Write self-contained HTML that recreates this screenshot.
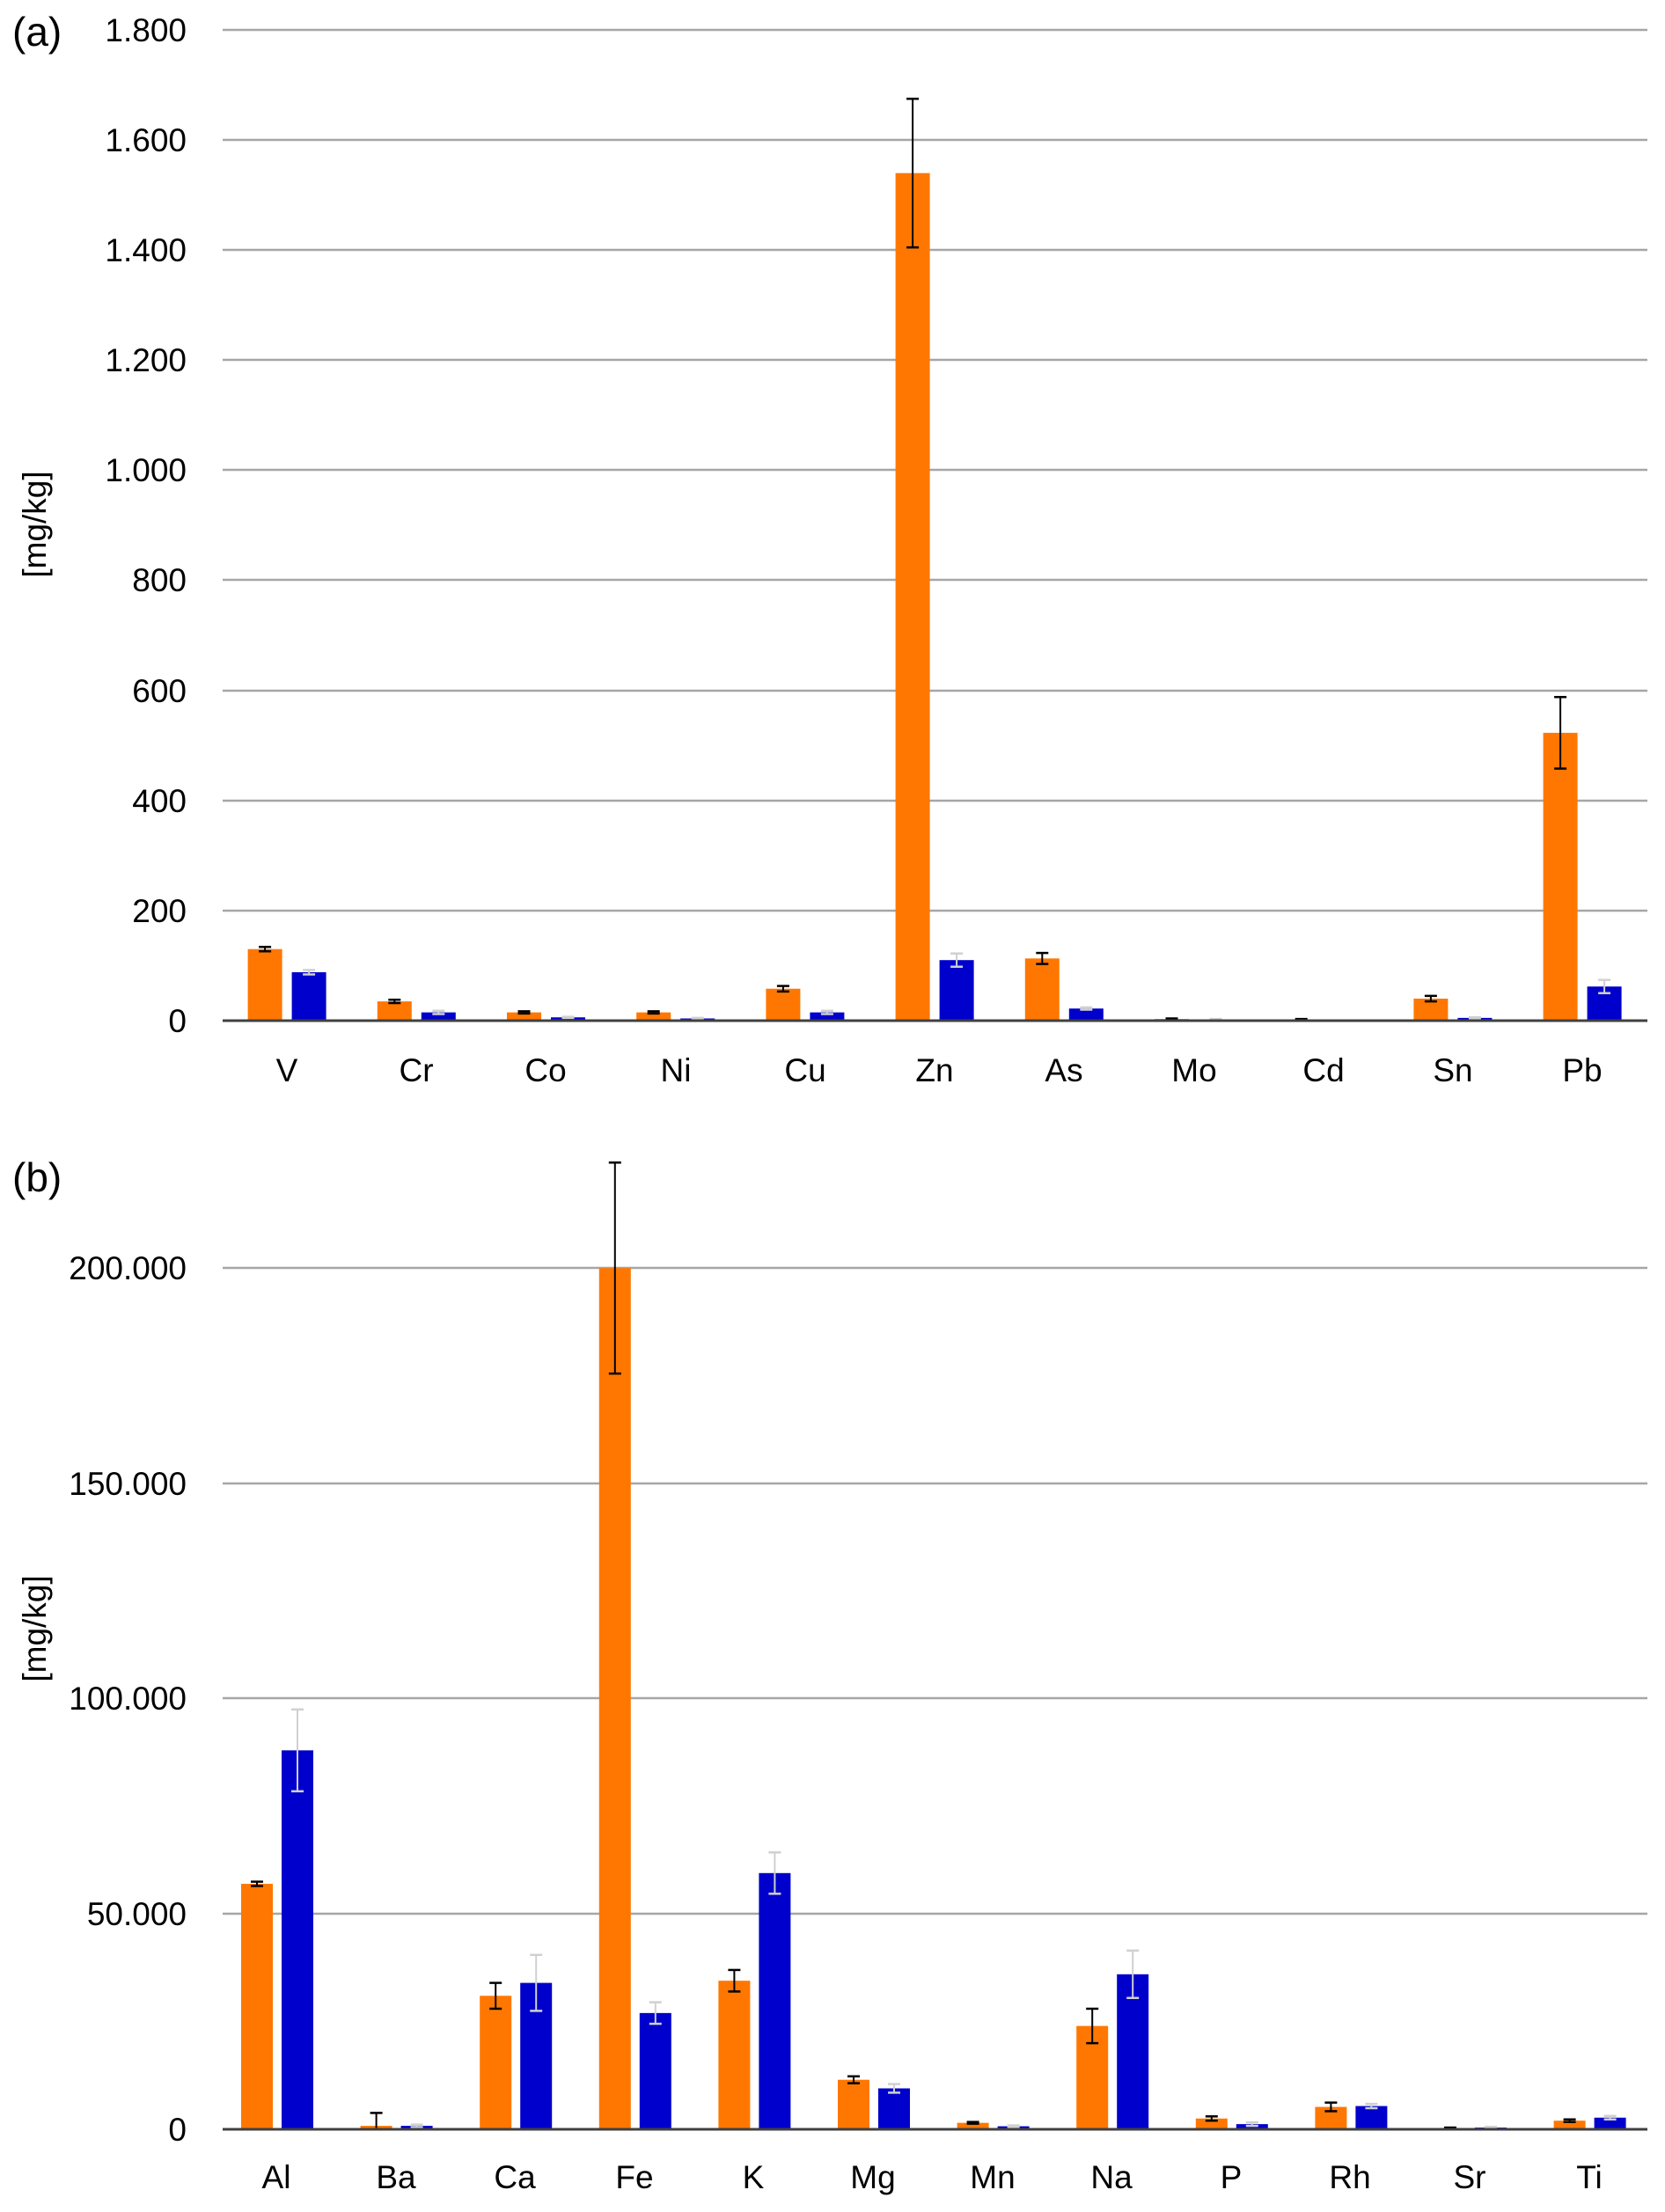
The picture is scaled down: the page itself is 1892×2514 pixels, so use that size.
<!DOCTYPE html>
<html><head><meta charset="utf-8"><style>
html,body{margin:0;padding:0;background:#fff;}
svg{display:block;}
text{font-family:"Liberation Sans",sans-serif;fill:#000;}
</style></head><body>
<svg id="s" width="1892" height="2514" viewBox="0 0 1892 2514" xmlns="http://www.w3.org/2000/svg">
<g stroke="#a6a6a6" stroke-width="2.5">
<line x1="253" x2="1872" y1="34" y2="34"/><line x1="253" x2="1872" y1="159" y2="159"/>
<line x1="253" x2="1872" y1="284" y2="284"/><line x1="253" x2="1872" y1="409" y2="409"/>
<line x1="253" x2="1872" y1="534" y2="534"/><line x1="253" x2="1872" y1="659" y2="659"/>
<line x1="253" x2="1872" y1="785" y2="785"/><line x1="253" x2="1872" y1="910" y2="910"/>
<line x1="253" x2="1872" y1="1035" y2="1035"/>
<line x1="253" x2="1872" y1="1441" y2="1441"/><line x1="253" x2="1872" y1="1686" y2="1686"/>
<line x1="253" x2="1872" y1="1930" y2="1930"/><line x1="253" x2="1872" y1="2175" y2="2175"/>
</g>
<g id="bars"></g>
<g stroke="#404040" stroke-width="3">
<line x1="253" x2="1872" y1="1160" y2="1160"/>
<line x1="253" x2="1872" y1="2420" y2="2420"/>
</g>
<g font-size="46">
<text x="14" y="52">(a)</text>
<text x="14" y="1354">(b)</text>
</g>
<g font-size="37" text-anchor="end">
<text x="212" y="47">1.800</text><text x="212" y="172">1.600</text><text x="212" y="297">1.400</text>
<text x="212" y="422">1.200</text><text x="212" y="547">1.000</text><text x="212" y="672">800</text>
<text x="212" y="798">600</text><text x="212" y="923">400</text><text x="212" y="1048">200</text>
<text x="212" y="1173">0</text>
<text x="212" y="1454">200.000</text><text x="212" y="1699">150.000</text><text x="212" y="1943">100.000</text>
<text x="212" y="2188">50.000</text><text x="212" y="2433">0</text>
</g>
<text font-size="37" transform="translate(52,596) rotate(-90)" text-anchor="middle">[mg/kg]</text>
<text font-size="37" transform="translate(52,1851) rotate(-90)" text-anchor="middle">[mg/kg]</text>
<g font-size="37" text-anchor="middle">
<text x="326" y="1229">V</text><text x="473" y="1229">Cr</text><text x="620" y="1229">Co</text>
<text x="768" y="1229">Ni</text><text x="915" y="1229">Cu</text><text x="1062" y="1229">Zn</text>
<text x="1209" y="1229">As</text><text x="1357" y="1229">Mo</text><text x="1504" y="1229">Cd</text>
<text x="1651" y="1229">Sn</text><text x="1798" y="1229">Pb</text>
<text x="314" y="2487">Al</text><text x="450" y="2487">Ba</text><text x="585" y="2487">Ca</text>
<text x="721" y="2487">Fe</text><text x="856" y="2487">K</text><text x="992" y="2487">Mg</text>
<text x="1128" y="2487">Mn</text><text x="1263" y="2487">Na</text><text x="1399" y="2487">P</text>
<text x="1534" y="2487">Rh</text><text x="1670" y="2487">Sr</text><text x="1806" y="2487">Ti</text>
</g>
</svg>
<script>
var g=document.getElementById('bars'),NS="http://www.w3.org/2000/svg";
function el(n,a){var e=document.createElementNS(NS,n);for(var k in a)e.setAttribute(k,a[k]);g.appendChild(e);}
function chart(x0,cw,y0,sc,ob,bb,bw,data){
 data.forEach(function(d,i){
  var c=x0+cw*(i+0.5);
  [[d[0],d[1],ob,'#ff7700','#000'],[d[2],d[3],bb,'#0000cc','#d0d0d0']].forEach(function(s){
   var x=c+s[2],h=s[0]*sc;
   if(h>0)el('rect',{x:x,y:y0-h,width:bw,height:h,fill:s[3]});
   if(s[1]>0){var cx=x+bw/2,t=y0-(s[0]+s[1])*sc,b=y0-Math.max(0,s[0]-s[1])*sc;
    el('line',{x1:cx,x2:cx,y1:t,y2:b,stroke:s[4],'stroke-width':2});
    el('line',{x1:cx-7,x2:cx+7,y1:t,y2:t,stroke:s[4],'stroke-width':2.5});
    el('line',{x1:cx-7,x2:cx+7,y1:b,y2:b,stroke:s[4],'stroke-width':2.5});}
  });
 });
}
chart(253,147.2,1160,125.1/200,-45,5,39,[
[130,4,88,4],[35,3,15,3],[15,2,6,1],[15,2,4,1],[58,5,15,3],[1540,135,110,12],
[113,10,22,2],[3,1,2,1],[2,1,0,0],[40,5,5,1],[523,65,62,12]]);
chart(246.2,135.6,2420,244.7/50000,-40,6,36,[
[57000,500,88000,9500],[800,3000,800,300],[31000,3000,34000,6500],[200000,24500,27000,2500],
[34500,2500,59500,4800],[11500,800,9500,1000],[1500,200,700,200],[24000,4000,36000,5500],
[2500,500,1200,400],[5200,1000,5400,500],[300,100,400,150],[2000,300,2700,400]]);
</script>
</body></html>
